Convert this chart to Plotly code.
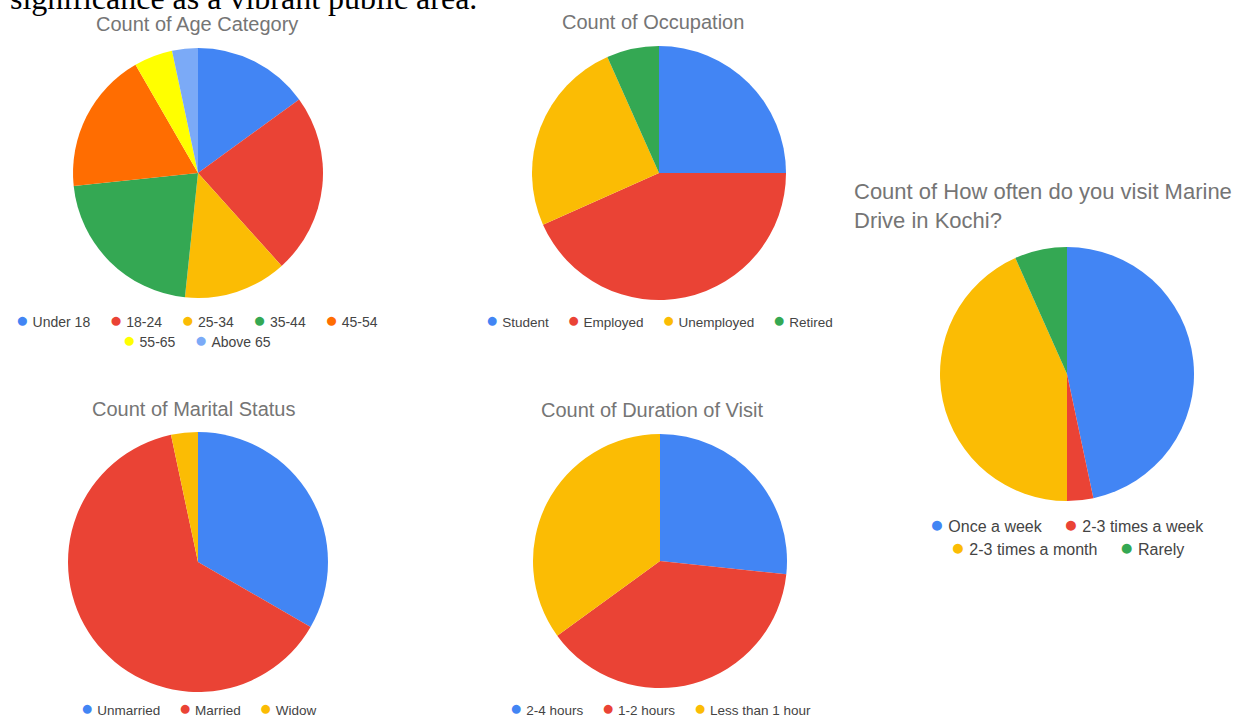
import plotly.graph_objects as go

W, H = 1248, 715

# ---------------- data ----------------
age_labels = ["Under 18", "18-24", "25-34", "35-44", "45-54", "55-65", "Above 65"]
age_counts = [9, 14, 8, 13, 11, 3, 2]

occ_labels = ["Student", "Employed", "Unemployed", "Retired"]
occ_counts = [15, 26, 15, 4]

mar_labels = ["Unmarried", "Married", "Widow"]
mar_counts = [20, 38, 2]

dur_labels = ["2-4 hours", "1-2 hours", "Less than 1 hour"]
dur_counts = [16, 23, 21]

freq_labels = ["Once a week", "2-3 times a week", "2-3 times a month", "Rarely"]
freq_counts = [28, 2, 26, 4]

# ---------------- styles ----------------
BLUE, RED, YEL, GRN, ORG, BYEL, LBLUE = ("#4285F4", "#EA4335", "#FBBC04", "#34A853",
                                         "#FF6D01", "#FFFF00", "#7BAAF7")
age_colors = [BLUE, RED, YEL, GRN, ORG, BYEL, LBLUE]
occ_colors = [BLUE, RED, YEL, GRN]
mar_colors = [BLUE, RED, YEL]
dur_colors = [BLUE, RED, YEL]
freq_colors = [BLUE, RED, YEL, GRN]

SANS = "Liberation Sans, Arial, sans-serif"
TITLE_COL = "#757575"
LEG_COL = "#444444"


def px_x(x):
    return x / W


def px_y(y):
    return 1 - y / H


def domain(cx, cy, r):
    return dict(x=[px_x(cx - r), px_x(cx + r)], y=[px_y(cy + r), px_y(cy - r)])


fig = go.Figure()

pies = [
    (age_labels, age_counts, age_colors, (198, 173, 125)),
    (occ_labels, occ_counts, occ_colors, (659, 173, 127)),
    (mar_labels, mar_counts, mar_colors, (198, 562, 130)),
    (dur_labels, dur_counts, dur_colors, (660, 561, 127)),
    (freq_labels, freq_counts, freq_colors, (1067, 374, 127)),
]
for labels, vals, cols, (cx, cy, r) in pies:
    fig.add_trace(go.Pie(
        labels=labels, values=vals, sort=False, direction="clockwise", rotation=0,
        marker=dict(colors=cols, line=dict(width=0)),
        textinfo="none", showlegend=False, domain=domain(cx, cy, r),
    ))

annotations = []


def text_ann(txt, x, y, size, color, family=SANS, xanchor="center", align="center"):
    annotations.append(dict(
        text=txt, x=px_x(x), y=px_y(y), xref="paper", yref="paper",
        xanchor=xanchor, yanchor="middle", showarrow=False, align=align,
        font=dict(size=size, color=color, family=family),
    ))


def legend_row(labels, colors, x, y, size, gap=5):
    sep = "&nbsp;" * gap
    parts = []
    for lab, col in zip(labels, colors):
        parts.append(f'<span style="color:{col};font-size:{size + 7}px">●</span>&nbsp;{lab}')
    text_ann(sep.join(parts), x, y, size, LEG_COL)


# page text cut at the top
text_ann("significance as a vibrant public area.", 8, -2, 32, "#000000",
         family="Liberation Serif, Times New Roman, serif", xanchor="left", align="left")

# titles
text_ann("Count of Age Category", 197, 24, 20, TITLE_COL)
text_ann("Count of Occupation", 653, 22, 20, TITLE_COL)
text_ann("Count of Marital Status", 193, 409, 20, TITLE_COL)
text_ann("Count of Duration of Visit", 652, 410, 20, TITLE_COL)
text_ann("Count of How often do you visit Marine<br>Drive in Kochi?", 852, 206, 22, TITLE_COL,
         xanchor="left", align="left")

# legends
legend_row(age_labels[:5], age_colors[:5], 197, 319, 14)
legend_row(age_labels[5:], age_colors[5:], 197, 339, 14)
legend_row(occ_labels, occ_colors, 659, 319, 13.5)
legend_row(mar_labels, mar_colors, 198, 707, 13.5)
legend_row(dur_labels, dur_colors, 660, 707, 13.5)
legend_row(freq_labels[:2], freq_colors[:2], 1067, 524, 16)
legend_row(freq_labels[2:], freq_colors[2:], 1067, 547, 16)

fig.update_layout(
    width=W, height=H, margin=dict(l=0, r=0, t=0, b=0),
    paper_bgcolor="white", plot_bgcolor="white",
    annotations=annotations,
)

fig.write_html("out.html", config={"displayModeBar": False},
               post_script="document.body.style.margin='0';document.body.style.overflow='hidden';")
